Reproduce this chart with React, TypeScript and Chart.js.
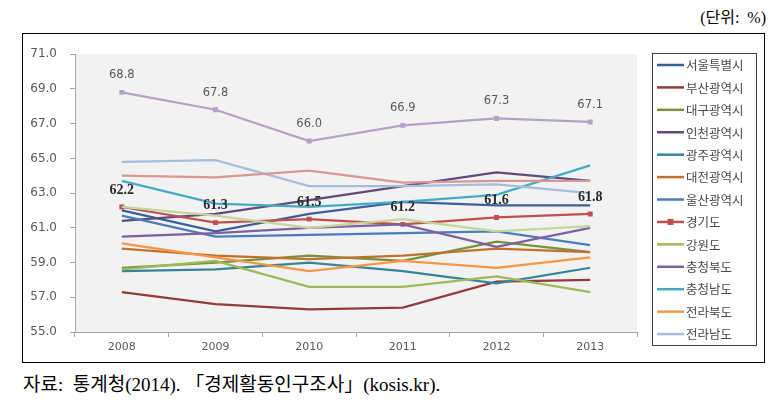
import React, { useEffect, useRef } from "react";
import { Chart, registerables } from "chart.js";

Chart.register(...registerables);

const years = ["2008", "2009", "2010", "2011", "2012", "2013"];
const regionNames = [
  "서울특별시", "부산광역시", "대구광역시", "인천광역시", "광주광역시", "대전광역시",
  "울산광역시", "경기도", "강원도", "충청북도", "충청남도", "전라북도", "전라남도",
  "경상북도", "경상남도", "제주특별자치도",
];
const seoul = [62.0, 60.8, 61.8, 62.5, 62.3, 62.3];
const busan = [57.3, 56.6, 56.3, 56.4, 57.9, 58.0];
const daegu = [58.7, 59.0, 59.4, 59.1, 60.2, 59.6];
const incheon = [61.4, 61.8, 62.6, 63.4, 64.2, 63.7];
const gwangju = [58.5, 58.6, 59.0, 58.5, 57.8, 58.7];
const daejeon = [59.8, 59.4, 59.2, 59.4, 59.8, 59.6];
const ulsan = [61.7, 60.5, 60.6, 60.7, 60.8, 60.0];
const gyeonggi = [62.2, 61.3, 61.5, 61.2, 61.6, 61.8];
const gangwon = [58.6, 59.1, 57.6, 57.6, 58.2, 57.3];
const chungbuk = [60.5, 60.7, 61.0, 61.2, 59.9, 61.0];
const chungnam = [63.7, 62.4, 62.2, 62.5, 62.9, 64.6];
const jeonbuk = [60.1, 59.3, 58.5, 59.1, 58.7, 59.3];
const jeonnam = [64.8, 64.9, 63.4, 63.4, 63.5, 63.0];
const gyeongbuk = [64.0, 63.9, 64.3, 63.6, 63.7, 63.7];
const gyeongnam = [62.2, 61.7, 61.0, 61.5, 60.8, 61.1];
const jeju = [68.8, 67.8, 66.0, 66.9, 67.3, 67.1];

const seriesValues = [
  seoul, busan, daegu, incheon, gwangju, daejeon, ulsan, gyeonggi, gangwon,
  chungbuk, chungnam, jeonbuk, jeonnam, gyeongbuk, gyeongnam, jeju,
];
const seriesColors = [
  "#3A6095", "#943A38", "#76923C", "#5F4A7D", "#35849A", "#C0712F",
  "#4A7EBB", "#C0504D", "#9BBB59", "#7D60A0", "#46AAC5", "#F79646",
  "#A6BDDC", "#D99694", "#C3D69B", "#B3A2C7",
];
const legendCount = 13;
const markerSeries = [7, 15];
const labelSeries = [7, 15];

const yMin = 55;
const yMax = 71;
const yStep = 2;

const bgPlugin = {
  id: "plotBg",
  beforeDraw(chart: any) {
    const { ctx, chartArea: a } = chart;
    ctx.save();
    ctx.fillStyle = "#F2F2F2";
    ctx.fillRect(a.left, a.top, a.right - a.left, a.bottom - a.top);
    ctx.restore();
  },
};

const labelPlugin = {
  id: "valueLabels",
  afterDatasetsDraw(chart: any) {
    const { ctx } = chart;
    ctx.save();
    ctx.textAlign = "center";
    ctx.textBaseline = "middle";
    labelSeries.forEach((di) => {
      const meta = chart.getDatasetMeta(di);
      const vals = chart.data.datasets[di].data as number[];
      if (di === 7) {
        ctx.font = 'bold 14px "Liberation Serif", serif';
        ctx.fillStyle = "#2B2B2B";
      } else {
        ctx.font = '11.5px "DejaVu Sans", sans-serif';
        ctx.fillStyle = "#595959";
      }
      meta.data.forEach((pt: any, i: number) => {
        ctx.fillText(Number(vals[i]).toFixed(1), pt.x, pt.y - 17);
      });
    });
    ctx.restore();
  },
};

const legendPlugin = {
  id: "boxLegend",
  afterDraw(chart: any) {
    const { ctx } = chart;
    const left = 629;
    const top = 19;
    const w = 104;
    const h = 292;
    ctx.save();
    ctx.fillStyle = "#FFFFFF";
    ctx.fillRect(left, top, w, h);
    ctx.strokeStyle = "#404040";
    ctx.lineWidth = 1;
    ctx.strokeRect(left + 0.5, top + 0.5, w, h);
    ctx.textAlign = "left";
    ctx.textBaseline = "middle";
    ctx.font = '12.5px "Noto Sans CJK KR", sans-serif';
    for (let i = 0; i < legendCount; i++) {
      const ds = chart.data.datasets[i];
      const cy = 31 + i * 22.42;
      ctx.strokeStyle = ds.borderColor;
      ctx.lineWidth = 2.5;
      ctx.beginPath();
      ctx.moveTo(634, cy);
      ctx.lineTo(661, cy);
      ctx.stroke();
      if (markerSeries.includes(i)) {
        ctx.fillStyle = ds.borderColor;
        ctx.fillRect(647.5 - 3, cy - 3, 6, 6);
      }
      ctx.fillStyle = "#4A4A4A";
      ctx.fillText(ds.label, 663, cy + 0.5);
    }
    ctx.restore();
  },
};

function LineChart() {
  const ref = useRef<HTMLCanvasElement | null>(null);
  useEffect(() => {
    if (!ref.current) return;
    const datasets = seriesValues.map((vals, i) => ({
      label: regionNames[i],
      data: vals,
      borderColor: seriesColors[i],
      backgroundColor: seriesColors[i],
      borderWidth: 2.25,
      tension: 0,
      pointStyle: "rect" as const,
      pointRadius: markerSeries.includes(i) ? 3.5 : 0,
      pointBorderWidth: 0,
      order: seriesValues.length - i,
    }));
    const chart = new Chart(ref.current, {
      type: "line",
      data: { labels: years, datasets },
      options: {
        animation: false,
        responsive: false,
        maintainAspectRatio: false,
        devicePixelRatio: 1,
        layout: { padding: { left: 0, right: 127, top: 15, bottom: 0 } },
        plugins: {
          legend: { display: false },
          tooltip: { enabled: false },
          title: { display: false },
        },
        scales: {
          x: {
            type: "category",
            offset: true,
            grid: {
              offset: true,
              drawOnChartArea: false,
              tickLength: 5,
              color: "#A6A6A6",
            },
            border: { color: "#A6A6A6", width: 1 },
            ticks: {
              color: "#595959",
              font: { family: "DejaVu Sans", size: 11 },
              padding: 4,
              maxRotation: 0,
            },
            afterFit(s: any) {
              s.height = 30;
            },
          },
          y: {
            min: yMin,
            max: yMax,
            grid: {
              drawOnChartArea: false,
              tickLength: 5,
              color: "#A6A6A6",
            },
            border: { color: "#A6A6A6", width: 1 },
            ticks: {
              stepSize: yStep,
              color: "#595959",
              font: { family: "DejaVu Sans", size: 12 },
              padding: 13,
              callback: (v: any) => Number(v).toFixed(1),
            },
            afterFit(s: any) {
              s.width = 52;
            },
          },
        },
      },
      plugins: [bgPlugin, labelPlugin, legendPlugin],
    });
    return () => chart.destroy();
  }, []);
  return <canvas ref={ref} width={741} height={328} style={{ display: "block", width: 741, height: 328 }} />;
}

export default function App() {
  return (
    <div style={{ position: "absolute", left: 0, top: 0, width: 769, height: 406, background: "#fff", overflow: "hidden" }}>
      <div
        style={{
          position: "absolute",
          right: 3,
          top: 9,
          fontFamily: '"Liberation Serif", "Noto Sans CJK KR", serif',
          fontSize: 16,
          lineHeight: "18px",
          color: "#000",
          whiteSpace: "pre",
        }}
      >
        (단위:  %)
      </div>
      <div
        style={{
          position: "absolute",
          left: 22,
          top: 33,
          width: 743,
          height: 330,
          border: "1px solid #000",
          boxSizing: "border-box",
        }}
      >
        <LineChart />
      </div>
      <div
        style={{
          position: "absolute",
          left: 23,
          top: 373,
          fontFamily: '"Liberation Serif", "Noto Sans CJK KR", serif',
          fontSize: 19,
          lineHeight: "24px",
          color: "#000",
          whiteSpace: "pre",
        }}
      >
        자료:  통계청(2014). 「경제활동인구조사」(kosis.kr).
      </div>
    </div>
  );
}
